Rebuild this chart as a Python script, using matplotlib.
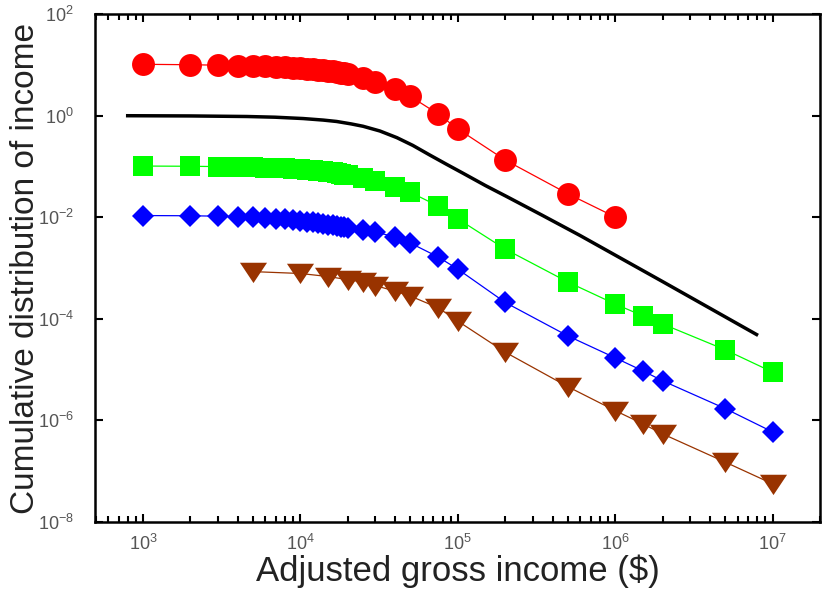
import numpy as np
import matplotlib
matplotlib.use("Agg")
import matplotlib.pyplot as plt
from matplotlib.ticker import FixedLocator, LogLocator, NullFormatter, NullLocator

plt.rcParams['font.family'] = ['Liberation Sans', 'DejaVu Sans']
plt.rcParams['mathtext.fontset'] = 'custom'
plt.rcParams['mathtext.rm'] = 'Liberation Sans'

# income brackets ($)
x_fine = [1000, 2000, 3000, 4000, 5000, 6000, 7000, 8000, 9000, 10000,
          11000, 12000, 13000, 14000, 15000, 16000, 17000, 18000, 19000, 20000,
          25000, 30000, 40000, 50000, 75000, 100000, 200000, 500000, 1000000]
x_top = [1500000, 2000000, 5000000, 10000000]
x_coarse = [5000, 10000, 15000, 20000, 25000, 30000, 40000, 50000, 75000,
            100000, 200000, 500000, 1000000, 1500000, 2000000, 5000000, 10000000]

# shifted cumulative distributions (as plotted)
red_y = [10.3, 10.1, 9.9, 9.7, 9.5, 9.35, 9.2, 9.05, 8.9, 8.7,
         8.5, 8.3, 8.1, 7.9, 7.7, 7.45, 7.2, 7.0, 6.8, 6.6,
         5.6, 4.6, 3.4, 2.4, 1.08, 0.55, 0.134, 0.029, 0.0101]
green_y = [0.102, 0.101, 0.0995, 0.098, 0.0965, 0.095, 0.0935, 0.092, 0.0905, 0.089,
           0.087, 0.085, 0.083, 0.081, 0.079, 0.077, 0.0745, 0.072, 0.0695, 0.067,
           0.060, 0.052, 0.040, 0.031, 0.0166, 0.0093, 0.00236, 0.00053, 0.000195,
           0.000114, 7.9e-5, 2.45e-5, 8.9e-6]
blue_y = [0.0108, 0.0107, 0.0105, 0.0103, 0.0100, 0.0097, 0.0094, 0.0091, 0.0088, 0.0085,
          0.0082, 0.0079, 0.0076, 0.0073, 0.0071, 0.0069, 0.0067, 0.0065, 0.0063, 0.0061,
          0.0056, 0.0051, 0.0041, 0.0031, 0.00165, 0.00095, 2.1e-4, 4.6e-5, 1.7e-5,
          9.4e-6, 6.0e-6, 1.7e-6, 5.9e-7]
brown_y = [8.5e-4, 7.8e-4, 6.8e-4, 5.9e-4, 5.3e-4, 4.5e-4, 3.5e-4, 2.8e-4, 1.65e-4,
           9.0e-5, 2.2e-5, 4.6e-6, 1.55e-6, 8.5e-7, 5.4e-7, 1.5e-7, 5.6e-8]

# fitted curve
fit_x = [800, 2000, 4570, 6900, 10400, 14000, 17000, 21000, 25000, 32000, 41000,
         51800, 66400, 85000, 107600, 150000, 204800, 346500, 595500, 2000000, 7900000]
fit_y = [1.0, 0.99, 0.965, 0.935, 0.88, 0.82, 0.77, 0.69, 0.62, 0.50, 0.37,
         0.26, 0.168, 0.11, 0.074, 0.042, 0.0255, 0.0108, 0.0044, 5.4e-4, 4.9e-5]

x_long = x_fine + x_top

fig = plt.figure(figsize=(8.25, 5.91), dpi=100)
ax = fig.add_axes([0.115, 0.117, 0.879, 0.859])

tri = [(-1.0, 0.72), (1.0, 0.72), (0.0, -0.78)]

ax.plot(x_fine, red_y, color='#ff0000', lw=0.9, marker='o', ms=16.5,
        markeredgewidth=0)
ax.plot(fit_x, fit_y, color='black', lw=2.5)
ax.plot(x_long, green_y, color='#00ff00', lw=0.9, marker='s', ms=14.5,
        markeredgewidth=0)
ax.plot(x_long, blue_y, color='#0000ff', lw=0.9, marker='D', ms=11.5,
        markeredgewidth=0)
ax.plot(x_coarse, brown_y, color='#993300', lw=0.9, marker=tri, ms=19.5,
        markeredgewidth=0)

ax.set_xscale('log')
ax.set_yscale('log')
ax.set_xlim(495, 2e7)
ax.set_ylim(1e-8, 1e2)

xt = [1e3, 1e4, 1e5, 1e6, 1e7]
ax.xaxis.set_major_locator(FixedLocator(xt))
ax.set_xticklabels([r'$\mathregular{10^{%d}}$' % int(np.log10(v)) for v in xt])
ax.xaxis.set_minor_locator(LogLocator(base=10, subs=np.arange(2, 10), numticks=20))
ax.xaxis.set_minor_formatter(NullFormatter())

yt = [1e-8, 1e-6, 1e-4, 1e-2, 1e0, 1e2]
ax.yaxis.set_major_locator(FixedLocator(yt))
ax.set_yticklabels([r'$\mathregular{10^{%d}}$' % int(np.log10(v)) for v in yt])
ax.yaxis.set_minor_locator(NullLocator())

ax.tick_params(which='both', direction='in', top=True, right=True, width=1.5,
               labelsize=13, labelcolor='#555555')
ax.tick_params(which='major', length=6)
ax.tick_params(which='minor', length=4)
ax.tick_params(axis='x', pad=9)
ax.tick_params(axis='y', pad=15)

for s in ax.spines.values():
    s.set_linewidth(1.8)

ax.set_xlabel('Adjusted gross income ($)', fontsize=25, color='#222222', labelpad=0)
ax.set_ylabel('Cumulative distribution of income', fontsize=24, color='#222222',
              labelpad=-2)

fig.savefig('out.png', dpi=100)
